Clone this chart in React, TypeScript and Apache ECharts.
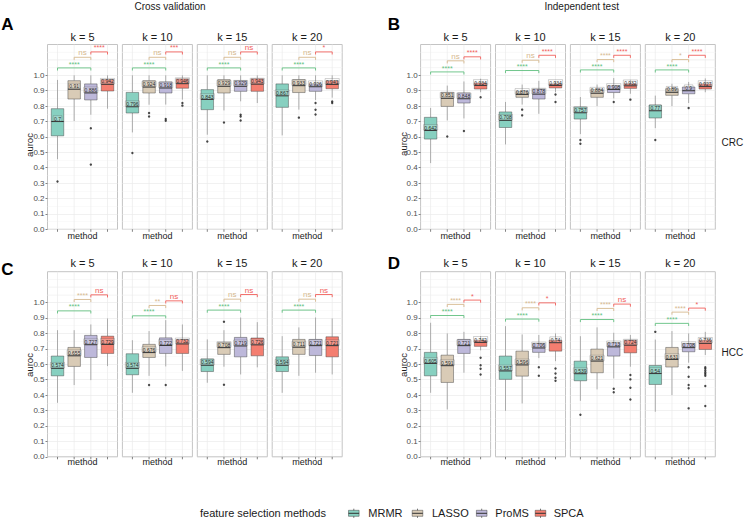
import React, { useEffect, useRef } from 'react';
import * as echarts from 'echarts';

const FONT = '"Liberation Sans", Arial, Helvetica, sans-serif';

const methods = ['MRMR', 'LASSO', 'ProMS', 'SPCA'];
const kLabels = ['k = 5', 'k = 10', 'k = 15', 'k = 20'];
const yTickValues = [0, 0.1, 0.2, 0.3, 0.4, 0.5, 0.6, 0.7, 0.8, 0.9, 1.0];
const upperGridValues = [1.05, 1.1, 1.15];
const methodColors = ['#87D0C0', '#D9CBB6', '#BDB8DA', '#F47E70'];
const bracketColors = ['#62BF80', '#D6B98F', '#F0605B'];
// comparisons drawn as brackets: MRMR vs ProMS, LASSO vs ProMS, ProMS vs SPCA
const comparisons = [[1, 3], [2, 3], [3, 4]];

// box stats per k (5,10,15,20), per method: [lower whisker, Q1, median, Q3, upper whisker]
const crcCvBoxes = [
  [[0.455, 0.607, 0.7, 0.783, 0.97], [0.703, 0.846, 0.91, 0.965, 1.0], [0.744, 0.84, 0.886, 0.944, 1.0], [0.783, 0.898, 0.942, 0.972, 1.0]],
  [[0.629, 0.755, 0.796, 0.889, 1.0], [0.809, 0.885, 0.924, 0.965, 1.0], [0.81, 0.885, 0.918, 0.957, 1.0], [0.842, 0.916, 0.946, 0.977, 1.0]],
  [[0.614, 0.777, 0.843, 0.907, 1.0], [0.772, 0.885, 0.929, 0.972, 1.0], [0.831, 0.896, 0.929, 0.965, 1.0], [0.82, 0.896, 0.943, 0.977, 1.0]],
  [[0.61, 0.792, 0.867, 0.944, 1.0], [0.777, 0.888, 0.933, 0.972, 1.0], [0.84, 0.896, 0.926, 0.944, 1.0], [0.855, 0.913, 0.941, 0.965, 1.0]],
];
const crcCvOutliers = [
  [[0.31], [], [0.656, 0.42], []],
  [[0.495], [0.755, 0.733], [0.716, 0.705], [0.82, 0.803]],
  [[0.57], [0.694], [0.744, 0.733, 0.707], []],
  [[], [0.725], [0.82, 0.776, 0.746], [0.83, 0.82]],
];
const crcCvSig = [['****', 'ns', '****'], ['****', 'ns', '***'], ['****', 'ns', 'ns'], ['****', 'ns', '*']];
const crcCvSigY = [[1.048, 1.117, 1.152], [1.048, 1.117, 1.152], [1.048, 1.117, 1.152], [1.048, 1.117, 1.152]];

const crcTestBoxes = [
  [[0.43, 0.586, 0.642, 0.727, 0.788], [0.707, 0.798, 0.851, 0.889, 0.933], [0.72, 0.82, 0.848, 0.885, 0.96], [0.89, 0.911, 0.934, 0.95, 0.978]],
  [[0.551, 0.661, 0.708, 0.762, 0.827], [0.81, 0.857, 0.876, 0.894, 0.94], [0.75, 0.846, 0.878, 0.911, 0.964], [0.89, 0.918, 0.934, 0.944, 0.96]],
  [[0.618, 0.716, 0.757, 0.794, 0.859], [0.8, 0.857, 0.884, 0.907, 0.94], [0.85, 0.888, 0.908, 0.932, 0.982], [0.88, 0.915, 0.932, 0.945, 0.97]],
  [[0.657, 0.723, 0.77, 0.807, 0.868], [0.8, 0.87, 0.89, 0.913, 0.945], [0.82, 0.88, 0.9, 0.924, 0.957], [0.89, 0.911, 0.927, 0.944, 0.98]],
];
const crcTestOutliers = [
  [[], [0.603], [0.638], [0.857]],
  [[], [0.777, 0.74], [], [0.875, 0.827]],
  [[0.58, 0.555], [], [0.827], [0.842]],
  [[0.58], [], [0.788], []],
];
const crcTestSig = [['****', 'ns', '****'], ['****', 'ns', '****'], ['****', '****', '****'], ['****', '*', '****']];
const crcTestSigY = [[1.022, 1.094, 1.12], [1.031, 1.098, 1.13], [1.035, 1.102, 1.13], [1.035, 1.102, 1.13]];

const hccCvBoxes = [
  [[0.35, 0.525, 0.574, 0.653, 0.821], [0.465, 0.586, 0.655, 0.709, 0.821], [0.497, 0.644, 0.727, 0.787, 0.858], [0.588, 0.67, 0.729, 0.782, 0.897]],
  [[0.415, 0.532, 0.574, 0.668, 0.756], [0.525, 0.644, 0.676, 0.729, 0.815], [0.586, 0.67, 0.722, 0.771, 0.886], [0.557, 0.67, 0.732, 0.76, 0.858]],
  [[0.48, 0.553, 0.594, 0.635, 0.761], [0.584, 0.664, 0.708, 0.742, 0.821], [0.534, 0.648, 0.719, 0.774, 0.903], [0.58, 0.655, 0.726, 0.77, 0.873]],
  [[0.415, 0.553, 0.594, 0.648, 0.782], [0.525, 0.664, 0.711, 0.761, 0.839], [0.545, 0.657, 0.721, 0.761, 0.903], [0.534, 0.648, 0.721, 0.778, 0.897]],
];
const hccCvOutliers = [
  [[], [], [], []],
  [[], [0.465], [0.465], []],
  [[], [0.875, 0.467], [], []],
  [[], [], [], []],
];
const hccCvSig = [['****', '****', 'ns'], ['****', '**', 'ns'], ['****', 'ns', 'ns'], ['****', 'ns', 'ns']];
const hccCvSigY = [[0.946, 1.02, 1.05], [0.914, 0.981, 1.011], [0.951, 1.022, 1.052], [0.951, 1.022, 1.052]];

const hccTestBoxes = [
  [[0.415, 0.525, 0.605, 0.677, 0.869], [0.307, 0.482, 0.591, 0.659, 0.8], [0.545, 0.67, 0.721, 0.761, 0.81], [0.69, 0.716, 0.742, 0.756, 0.782]],
  [[0.298, 0.502, 0.557, 0.653, 0.847], [0.346, 0.523, 0.596, 0.685, 0.793], [0.64, 0.677, 0.706, 0.735, 0.79], [0.62, 0.685, 0.74, 0.756, 0.8]],
  [[0.363, 0.493, 0.539, 0.62, 0.782], [0.437, 0.545, 0.621, 0.698, 0.839], [0.508, 0.653, 0.713, 0.739, 0.804], [0.584, 0.674, 0.724, 0.756, 0.79]],
  [[0.292, 0.469, 0.54, 0.592, 0.76], [0.4, 0.582, 0.631, 0.709, 0.815], [0.61, 0.681, 0.708, 0.735, 0.8], [0.66, 0.696, 0.736, 0.756, 0.81]],
];
const hccTestOutliers = [
  [[], [], [], [0.642, 0.593, 0.571, 0.534]],
  [[], [], [0.58, 0.525], [0.573, 0.54, 0.513, 0.493]],
  [[0.273], [], [0.441, 0.418], [0.53, 0.502, 0.448, 0.372]],
  [[0.81], [], [0.58, 0.519, 0.465, 0.444, 0.314], [0.58, 0.571, 0.558, 0.547, 0.536, 0.526, 0.459, 0.329]],
];
const hccTestSig = [['****', '****', '*'], ['****', '****', '*'], ['****', '****', 'ns'], ['****', '****', '*']];
const hccTestSigY = [[0.916, 0.988, 1.016], [0.893, 0.966, 0.998], [0.89, 0.962, 0.99], [0.865, 0.938, 0.964]];

const panels = [
  { boxes: crcCvBoxes, outliers: crcCvOutliers, sig: crcCvSig, sigY: crcCvSigY },
  { boxes: crcTestBoxes, outliers: crcTestOutliers, sig: crcTestSig, sigY: crcTestSigY },
  { boxes: hccCvBoxes, outliers: hccCvOutliers, sig: hccCvSig, sigY: hccCvSigY },
  { boxes: hccTestBoxes, outliers: hccTestOutliers, sig: hccTestSig, sigY: hccTestSigY },
];

const fmtMedian = (v: number) => String(Number(v.toFixed(3)));

function buildOption() {
  const grids: any[] = [];
  const xAxes: any[] = [];
  const yAxes: any[] = [];
  const series: any[] = [];
  const graphics: any[] = [];

  const facetLeft = (p: number, k: number) => (p % 2 === 0 ? 47.5 : 420.6) + k * 74.9;
  const facetTop = (p: number) => (p < 2 ? 44.5 : 271.7);
  const facetHeight = (p: number) => (p < 2 ? 184.8 : 185.1);

  panels.forEach((pnl, p) => {
    for (let k = 0; k < 4; k++) {
      const gi = p * 4 + k;
      const left = facetLeft(p, k);
      const top = facetTop(p);
      const height = facetHeight(p);
      const first = k === 0;
      grids.push({
        left, top, width: 70, height,
        show: true, borderColor: '#C4C4C4', borderWidth: 1, backgroundColor: '#FFFFFF',
      });
      xAxes.push({
        gridIndex: gi, type: 'value', min: 0.4, max: 4.6,
        axisLine: { show: false }, axisTick: { show: false }, axisLabel: { show: false },
        splitLine: { show: false },
      });
      yAxes.push({
        gridIndex: gi, type: 'value', min: 0, max: 1.2, interval: 0.1,
        axisLine: { show: false },
        axisTick: { show: first, length: 2, lineStyle: { color: '#4D4D4D', width: 0.7 }, customValues: yTickValues },
        axisLabel: {
          show: first, fontSize: 8, color: '#4D4D4D', margin: 3, fontFamily: FONT,
          customValues: yTickValues,
          formatter: (v: number) => (v <= 1.0001 ? v.toFixed(1) : ''),
        },
        splitLine: { show: true, lineStyle: { color: '#EBEBEB', width: 0.7 } },
        minorTick: { show: false, splitNumber: 2 },
        minorSplitLine: { show: true, lineStyle: { color: '#F5F5F5', width: 0.5 } },
      });

      // vertical grid lines and x ticks at category positions
      series.push({
        type: 'custom', xAxisIndex: gi, yAxisIndex: gi, silent: true, z: 1, clip: false,
        data: methods.map((_, i) => [i + 1, 0]),
        encode: { x: 0, y: 1 },
        renderItem: (params: any, api: any) => {
          const x = api.value(0);
          const t = api.coord([x, 1.2]);
          const b = api.coord([x, 0]);
          return {
            type: 'group',
            children: [
              { type: 'line', shape: { x1: t[0], y1: t[1], x2: b[0], y2: b[1] }, style: { stroke: '#EBEBEB', lineWidth: 0.7 } },
              { type: 'line', shape: { x1: b[0], y1: b[1], x2: b[0], y2: b[1] + 2.5 }, style: { stroke: '#4D4D4D', lineWidth: 0.7 } },
            ],
          };
        },
      });

      // horizontal grid lines above the labelled range
      series.push({
        type: 'custom', xAxisIndex: gi, yAxisIndex: gi, silent: true, z: 0, clip: false,
        data: upperGridValues.map((v) => [0.4, v]),
        encode: { x: 0, y: 1 },
        renderItem: (params: any, api: any) => {
          const v = api.value(1);
          const a = api.coord([0.4, v]);
          const b = api.coord([4.6, v]);
          const major = Math.abs(v - 1.1) < 1e-6;
          return {
            type: 'line', shape: { x1: a[0], y1: a[1], x2: b[0], y2: b[1] },
            style: { stroke: major ? '#EBEBEB' : '#F5F5F5', lineWidth: major ? 0.7 : 0.5 },
          };
        },
      });

      // boxes
      const boxStats = pnl.boxes[k];
      const medLabels = boxStats.map((s) => fmtMedian(s[2]));
      series.push({
        type: 'custom', xAxisIndex: gi, yAxisIndex: gi, silent: true, z: 3, clip: false,
        data: boxStats.map((s, m) => [m + 1, s[0], s[1], s[2], s[3], s[4], m]),
        encode: { x: 0, y: 3 },
        renderItem: (params: any, api: any) => {
          const pos = api.value(0);
          const m = api.value(6);
          const pLo = api.coord([pos, api.value(1)]);
          const pQ1 = api.coord([pos, api.value(2)]);
          const pMed = api.coord([pos, api.value(3)]);
          const pQ3 = api.coord([pos, api.value(4)]);
          const pHi = api.coord([pos, api.value(5)]);
          const xl = api.coord([pos - 0.375, 0])[0];
          const xr = api.coord([pos + 0.375, 0])[0];
          const cx = pMed[0];
          return {
            type: 'group',
            children: [
              { type: 'line', shape: { x1: cx, y1: pHi[1], x2: cx, y2: pQ3[1] }, style: { stroke: '#999999', lineWidth: 0.8 } },
              { type: 'line', shape: { x1: cx, y1: pQ1[1], x2: cx, y2: pLo[1] }, style: { stroke: '#999999', lineWidth: 0.8 } },
              {
                type: 'rect',
                shape: { x: xl, y: pQ3[1], width: xr - xl, height: pQ1[1] - pQ3[1] },
                style: { fill: methodColors[m], stroke: 'rgba(60,60,60,0.55)', lineWidth: 0.8 },
              },
              { type: 'line', shape: { x1: xl, y1: pMed[1], x2: xr, y2: pMed[1] }, style: { stroke: '#333333', lineWidth: 1.1 } },
              {
                type: 'text',
                style: {
                  text: medLabels[params.dataIndex], x: cx, y: pMed[1] - 0.3,
                  align: 'center', verticalAlign: 'bottom', fontSize: 5, fontFamily: FONT, fill: '#2A2A2A',
                  backgroundColor: 'rgba(255,255,255,0.2)', borderColor: 'rgba(70,70,70,0.35)', borderWidth: 0.4,
                  padding: [0.5, 0.8, 0, 0.8],
                },
              },
            ],
          };
        },
      });

      // outliers
      const pts: number[][] = [];
      pnl.outliers[k].forEach((list, m) => list.forEach((v) => pts.push([m + 1, v])));
      series.push({
        type: 'scatter', xAxisIndex: gi, yAxisIndex: gi, silent: true, z: 4,
        symbol: 'circle', symbolSize: 2.4, itemStyle: { color: '#1A1A1A' },
        data: pts,
      });

      // significance brackets
      const sigTexts = pnl.sig[k];
      series.push({
        type: 'custom', xAxisIndex: gi, yAxisIndex: gi, silent: true, z: 5, clip: false,
        data: comparisons.map((c, i) => [c[0], c[1], pnl.sigY[k][i], i]),
        encode: { x: 0, y: 2 },
        renderItem: (params: any, api: any) => {
          const ci = api.value(3);
          const a = api.coord([api.value(0), api.value(2)]);
          const b = api.coord([api.value(1), api.value(2)]);
          const col = bracketColors[ci];
          const txt = sigTexts[params.dataIndex];
          const isNs = txt === 'ns';
          return {
            type: 'group',
            children: [
              {
                type: 'polyline',
                shape: { points: [[a[0], a[1] + 2.6], [a[0], a[1]], [b[0], b[1]], [b[0], b[1] + 2.6]] },
                style: { stroke: col, lineWidth: 0.9, fill: 'none' },
              },
              {
                type: 'text',
                style: {
                  text: txt, x: (a[0] + b[0]) / 2, y: a[1] - 0.4,
                  align: 'center', verticalAlign: 'bottom',
                  fontSize: isNs ? 8 : 7, fontFamily: FONT, fill: col,
                },
              },
            ],
          };
        },
      });

      // facet strip label and x axis title
      const cxFacet = left + 35;
      graphics.push({
        type: 'text', x: cxFacet, y: p < 2 ? 36.5 : 263.3,
        style: { text: kLabels[k], fontSize: 11, fontFamily: FONT, fill: '#1A1A1A', align: 'center', verticalAlign: 'middle' },
      });
      graphics.push({
        type: 'text', x: cxFacet, y: p < 2 ? 235.5 : 462.3,
        style: { text: 'method', fontSize: 9, fontFamily: FONT, fill: '#1A1A1A', align: 'center', verticalAlign: 'middle' },
      });
    }
  });

  // y-axis titles
  const yTitles = [
    { x: 29.5, y: 145 },
    { x: 403, y: 144 },
    { x: 29.5, y: 365 },
    { x: 403, y: 365 },
  ];
  yTitles.forEach((t) => {
    graphics.push({
      type: 'text', x: t.x, y: t.y, rotation: Math.PI / 2,
      style: { text: 'auroc', fontSize: 9.5, fontFamily: FONT, fill: '#1A1A1A', align: 'center', verticalAlign: 'middle' },
    });
  });

  // titles, panel letters, row labels
  graphics.push({ type: 'text', x: 170, y: 6.5, style: { text: 'Cross validation', fontSize: 10, fontFamily: FONT, fill: '#1A1A1A', align: 'center', verticalAlign: 'middle' } });
  graphics.push({ type: 'text', x: 581.7, y: 6.5, style: { text: 'Independent test', fontSize: 10, fontFamily: FONT, fill: '#1A1A1A', align: 'center', verticalAlign: 'middle' } });
  const letters = [
    { t: 'A', x: 7.5, y: 24 },
    { t: 'B', x: 394, y: 24 },
    { t: 'C', x: 7.5, y: 269 },
    { t: 'D', x: 394, y: 263.5 },
  ];
  letters.forEach((l) => {
    graphics.push({ type: 'text', x: l.x, y: l.y, style: { text: l.t, fontSize: 17, fontWeight: 'bold', fontFamily: FONT, fill: '#000', align: 'center', verticalAlign: 'middle' } });
  });
  graphics.push({ type: 'text', x: 721.5, y: 142, style: { text: 'CRC', fontSize: 10, fontFamily: FONT, fill: '#1A1A1A', align: 'left', verticalAlign: 'middle' } });
  graphics.push({ type: 'text', x: 721.5, y: 352.5, style: { text: 'HCC', fontSize: 10, fontFamily: FONT, fill: '#1A1A1A', align: 'left', verticalAlign: 'middle' } });

  // legend
  const ly = 513.3;
  graphics.push({ type: 'text', x: 200, y: ly, style: { text: 'feature selection methods', fontSize: 11, fontFamily: FONT, fill: '#1A1A1A', align: 'left', verticalAlign: 'middle' } });
  const legendIconX = [348.5, 412.2, 476.4, 535.2];
  const legendTextX = [368.3, 432, 495.3, 553.7];
  methods.forEach((name, i) => {
    const ix = legendIconX[i];
    graphics.push({
      type: 'group',
      children: [
        { type: 'line', shape: { x1: ix + 5.3, y1: ly - 4.6, x2: ix + 5.3, y2: ly + 4.6 }, style: { stroke: '#555', lineWidth: 0.8 } },
        { type: 'rect', shape: { x: ix, y: ly - 3, width: 10.6, height: 6 }, style: { fill: methodColors[i], stroke: 'rgba(60,60,60,0.6)', lineWidth: 0.8 } },
        { type: 'line', shape: { x1: ix, y1: ly, x2: ix + 10.6, y2: ly }, style: { stroke: '#333', lineWidth: 1 } },
      ],
    });
    graphics.push({ type: 'text', x: legendTextX[i], y: ly, style: { text: name, fontSize: 11, fontFamily: FONT, fill: '#1A1A1A', align: 'left', verticalAlign: 'middle' } });
  });

  return {
    animation: false,
    backgroundColor: '#FFFFFF',
    textStyle: { fontFamily: FONT },
    grid: grids,
    xAxis: xAxes,
    yAxis: yAxes,
    series,
    graphic: graphics,
  };
}

export default function App() {
  const ref = useRef<HTMLDivElement>(null);
  useEffect(() => {
    if (!ref.current) return;
    const chart = echarts.init(ref.current, undefined, { renderer: 'svg' });
    chart.setOption(buildOption() as any);
    return () => chart.dispose();
  }, []);
  return <div ref={ref} style={{ position: 'absolute', left: 0, top: 0, width: 744, height: 522 }} />;
}
